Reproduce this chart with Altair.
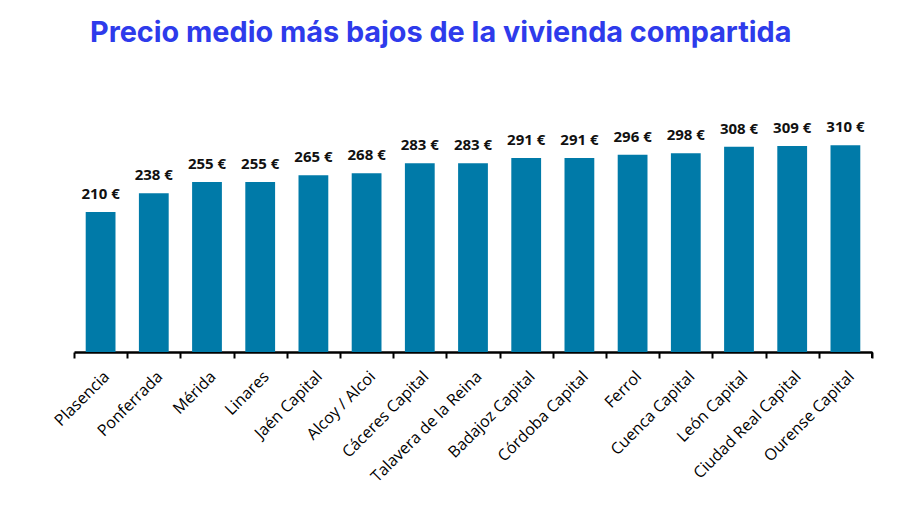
import altair as alt
import pandas as pd

ciudades = ["Plasencia", "Ponferrada", "Mérida", "Linares", "Jaén Capital",
            "Alcoy / Alcoi", "Cáceres Capital", "Talavera de la Reina",
            "Badajoz Capital", "Córdoba Capital", "Ferrol", "Cuenca Capital",
            "León Capital", "Ciudad Real Capital", "Ourense Capital"]
precios = [210, 238, 255, 255, 265, 268, 283, 283, 291, 291, 296, 298, 308, 309, 310]

df = pd.DataFrame({"ciudad": ciudades, "precio": precios})
df["etiqueta"] = df["precio"].astype(str) + " €"

W, H = 798, 220
x = alt.X("ciudad:N", sort=ciudades, title=None,
          scale=alt.Scale(paddingInner=0, paddingOuter=0),
          axis=alt.Axis(labelAngle=-45, labelFont="Open Sans", labelFontSize=16,
                        labelColor="#000000", domainColor="black", domainWidth=2.5,
                        tickColor="black", tickWidth=2, tickSize=6, tickBand="extent",
                        bandPosition=0, labelPadding=10, labelLimit=400, grid=False))
y = alt.Y("precio:Q", scale=alt.Scale(domain=[0, 330], nice=False), axis=None)

bars = alt.Chart(df).mark_bar(color="#007AA8", width=alt.RelativeBandSize(0.56)).encode(x=x, y=y)
labels = alt.Chart(df).mark_text(font="Open Sans", fontWeight="bold", fontSize=15,
                                 color="#111111", baseline="alphabetic", dy=-13).encode(
    x=alt.X("ciudad:N", sort=ciudades), y=y, text="etiqueta:N")
endtick = alt.Chart(df).mark_rule(color="black", strokeWidth=2).encode(
    x=alt.value(W), y=alt.value(H), y2=alt.value(H + 6))

chart = alt.layer(bars, labels, endtick).properties(
    width=W, height=H,
    title=alt.TitleParams("Precio medio más bajos de la vivienda compartida",
                          font="Inter", fontSize=28.8, fontWeight="bold", color="#2E3BEB",
                          anchor="start", frame="group", dx=16, offset=73),
    padding={"left": 66, "top": 124, "right": 20, "bottom": 148},
    autosize=alt.AutoSizeParams(type="none"),
).configure_view(stroke=None)

chart.save("out.html", embed_options={"renderer": "svg", "actions": False})
